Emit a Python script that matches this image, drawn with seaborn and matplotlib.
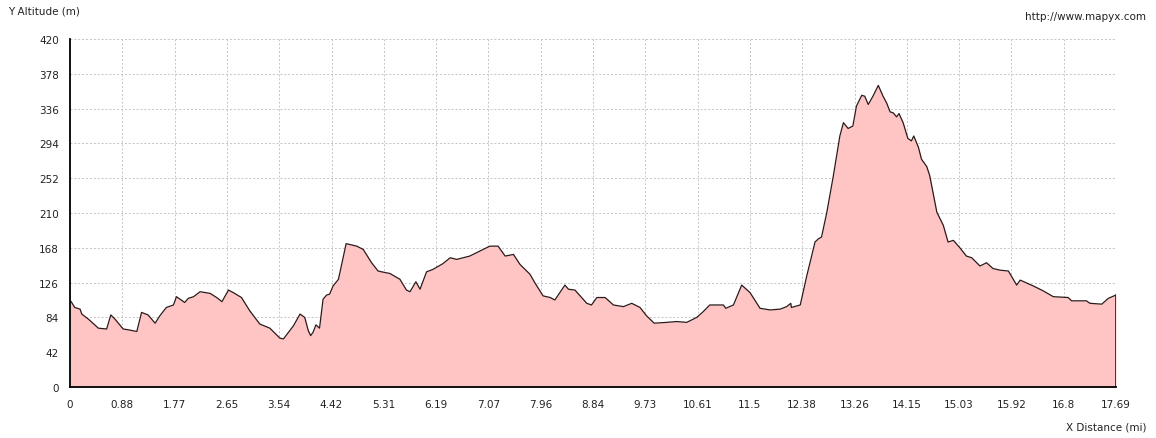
import numpy as np
import pandas as pd
import seaborn as sns
import matplotlib.pyplot as plt

# elevation profile (distance in miles, altitude in m)
distance = [0.0, 0.02, 0.08, 0.17, 0.2, 0.31, 0.48, 0.62, 0.69, 0.76, 0.9, 0.99, 1.13,
            1.21, 1.32, 1.44, 1.52, 1.63, 1.75, 1.8, 1.86, 1.94, 2.0, 2.09, 2.2, 2.37,
            2.48, 2.57, 2.68, 2.76, 2.9, 3.04, 3.21, 3.38, 3.55, 3.61, 3.78, 3.89, 3.97,
            4.03, 4.07, 4.11, 4.16, 4.22, 4.28, 4.34, 4.39, 4.45, 4.54, 4.67, 4.85, 4.96,
            5.1, 5.21, 5.27, 5.41, 5.58, 5.69, 5.75, 5.85, 5.92, 6.03, 6.14, 6.31, 6.43,
            6.54, 6.76, 6.93, 7.1, 7.24, 7.36, 7.5, 7.61, 7.78, 7.86, 8.0, 8.12, 8.2,
            8.37, 8.43, 8.54, 8.74, 8.82, 8.91, 9.05, 9.19, 9.36, 9.5, 9.64, 9.75, 9.88,
            10.09, 10.26, 10.43, 10.6, 10.71, 10.82, 11.05, 11.09, 11.22, 11.36, 11.5,
            11.67, 11.84, 12.01, 12.12, 12.19, 12.2, 12.35, 12.46, 12.6, 12.66, 12.71,
            12.8, 12.91, 13.02, 13.08, 13.16, 13.24, 13.3, 13.39, 13.44, 13.5, 13.58,
            13.67, 13.75, 13.81, 13.87, 13.92, 13.98, 14.02, 14.09, 14.17, 14.23, 14.27,
            14.35, 14.4, 14.49, 14.54, 14.66, 14.77, 14.85, 14.94, 15.05, 15.16, 15.25,
            15.39, 15.5, 15.61, 15.73, 15.87, 16.01, 16.07, 16.29, 16.46, 16.63, 16.88,
            16.94, 17.19, 17.25, 17.45, 17.56, 17.69]
altitude = [104, 103, 96, 94, 88, 82, 71, 70, 87, 82, 70, 69, 67,
            90, 87, 77, 86, 96, 99, 109, 106, 102, 107, 109, 115, 113,
            108, 103, 117, 114, 108, 92, 76, 71, 59, 58, 74, 88, 84,
            68, 62, 66, 75, 71, 106, 111, 112, 122, 130, 173, 170, 166,
            150, 140, 139, 137, 130, 117, 115, 127, 118, 139, 142, 149, 156,
            154, 158, 164, 170, 170, 158, 160, 148, 136, 126, 110, 108, 105,
            123, 118, 117, 101, 99, 108, 108, 99, 97, 101, 96, 86, 77,
            78, 79, 78, 84, 91, 99, 99, 95, 99, 123, 114,
            95, 93, 94, 97, 101, 96, 99, 134, 175, 179, 181,
            211, 255, 303, 319, 312, 315, 339, 352, 351, 341, 351,
            364, 351, 343, 332, 331, 326, 330, 319, 300, 297, 303,
            289, 275, 266, 255, 211, 195, 175, 177, 168, 158, 156,
            146, 150, 143, 141, 140, 123, 129, 122, 116, 109, 108,
            104, 104, 101, 100, 107, 111]

y_ticks = [0, 42, 84, 126, 168, 210, 252, 294, 336, 378, 420]
x_tick_labels = ["0", "0.88", "1.77", "2.65", "3.54", "4.42", "5.31", "6.19", "7.07",
                 "7.96", "8.84", "9.73", "10.61", "11.5", "12.38", "13.26", "14.15",
                 "15.03", "15.92", "16.8", "17.69"]
total_dist = 17.69

df = pd.DataFrame({"dist": distance, "alt": altitude})

sns.set_style("white")
plt.rcParams['font.family'] = ['DejaVu Sans']

fig = plt.figure(figsize=(11.56, 4.39), dpi=100)
ax = fig.add_axes([70 / 1156, 51 / 439, 1046 / 1156, 348 / 439])

ax.fill_between(df["dist"], 0, df["alt"], color="#ffc4c4", linewidth=0, zorder=2)
sns.lineplot(data=df, x="dist", y="alt", color="#2b1a1a", linewidth=0.9, ax=ax, zorder=3)
ax.plot([total_dist, total_dist], [0, altitude[-1]], color="#2b1a1a", linewidth=1.2, zorder=3)

x_ticks = [i * total_dist / 20 for i in range(21)]
ax.set_xlim(0, total_dist)
ax.set_ylim(0, 420)
ax.set_xticks(x_ticks)
ax.set_xticklabels(x_tick_labels)
ax.set_yticks(y_ticks)
ax.set_xlabel("")
ax.set_ylabel("")

# light fine-dashed grid, drawn over the fill like the original
ax.grid(True, color="#c4c4c4", linestyle=(0, (2, 2)), linewidth=0.7, zorder=2.5)
for side in ["top", "right"]:
    ax.spines[side].set_visible(False)
for side in ["left", "bottom"]:
    ax.spines[side].set_color("black")
    ax.spines[side].set_linewidth(1.3)
    ax.spines[side].set_zorder(4)
ax.tick_params(axis="both", direction="out", length=5, width=1.2, color="black",
               labelsize=7.5, labelcolor="#222222")
ax.tick_params(axis="x", pad=4)
ax.tick_params(axis="y", pad=3)

fig.text(8 / 1156, 1 - 11 / 439, "Y Altitude (m)", fontsize=7.5, color="#222222",
         ha="left", va="center")
fig.text(1146 / 1156, 1 - 17 / 439, "http://www.mapyx.com", fontsize=7.5,
         color="#222222", ha="right", va="center")
fig.text(1146 / 1156, 1 - 428 / 439, "X Distance (mi)", fontsize=7.5, color="#222222",
         ha="right", va="center")

fig.savefig("out.png", dpi=100)
